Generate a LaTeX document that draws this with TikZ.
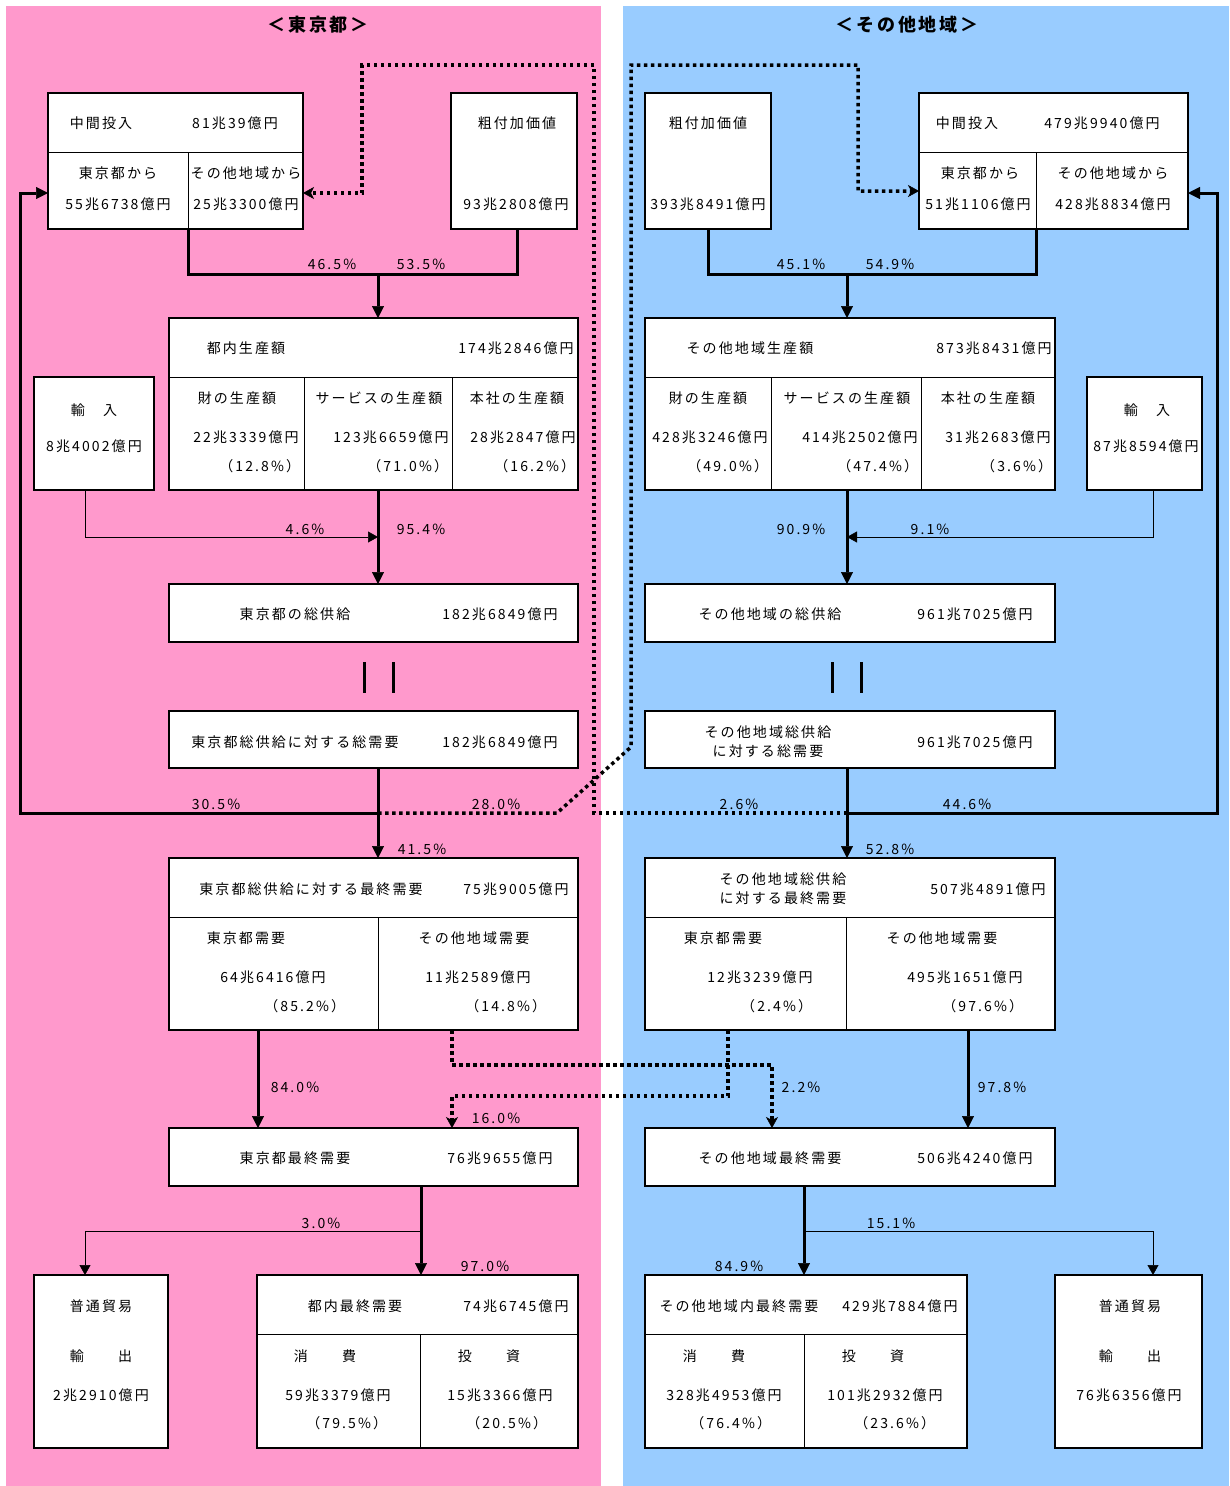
\documentclass[tikz,border=0pt]{standalone}
\usepackage{fontspec}
\setmainfont{Noto Sans CJK JP}[LetterSpace=15]
\usetikzlibrary{arrows.meta,calc}
\definecolor{pinkbg}{HTML}{FF99CC}
\definecolor{bluebg}{HTML}{99CCFF}
\newcommand{\BX}[5]{\node[bx,minimum width={(#4-#2)*1pt},minimum height={(#5-#3)*1pt}] (#1) at ({(#2+#4)/2},{(#3+#5)/2}) {};}
\newcommand{\TX}[4]{\node[tx] (#1) at (#2,#3) {#4};}
\newcommand{\TR}[4]{\node[tx,anchor=east] (#1) at (#2,#3) {#4};}
\newcommand{\DV}[4]{\draw[div] (#1,#2) -- (#3,#4);}
\begin{document}
\begin{tikzpicture}[x=1pt,y=-1pt,
 font=\fontsize{14}{19}\selectfont,
 bx/.style={draw,line width=2pt,fill=white,inner sep=0pt,outer sep=0pt},
 tx/.style={inner sep=0pt,outer sep=0pt,align=center},
 div/.style={line width=1pt},
 thk/.style={line width=3pt},
 thn/.style={line width=1pt},
 dots/.style={line width=3.5pt,dash pattern=on 3.5pt off 3.5pt},
 tipB/.style={-{Triangle[length=12pt,width=12pt,line width=0.5pt]}},
 tipS/.style={-{Triangle[length=10pt,width=11pt,line width=0.5pt]}},
 tipD/.style={-{Stealth[length=11pt,width=12pt,inset=3pt,line width=0.5pt]}},
 ttl/.style={inner sep=0pt,font=\fontsize{18}{20}\selectfont\bfseries}]
\useasboundingbox (0,0) rectangle (1229,1486);
\fill[pinkbg] (6,6) rectangle (601,1486);
\fill[bluebg] (623,6) rectangle (1229,1486);

% ---------------- boxes: Tokyo
\BX{tkMid}{48}{93}{303}{229}
\DV{48}{152}{303}{152} \DV{188}{152}{188}{229}
\BX{tkVA}{451}{93}{577}{229}
\BX{tkProd}{169}{318}{578}{490}
\DV{169}{377}{578}{377} \DV{304}{377}{304}{490} \DV{452}{377}{452}{490}
\BX{tkImp}{34}{377}{154}{490}
\BX{tkSup}{169}{584}{578}{642}
\BX{tkTD}{169}{711}{578}{768}
\BX{tkFD}{169}{858}{578}{1030}
\DV{169}{917}{578}{917} \DV{378}{917}{378}{1030}
\BX{tkFin}{169}{1128}{578}{1186}
\BX{tkExp}{34}{1275}{168}{1448}
\BX{tkDom}{257}{1275}{578}{1448}
\DV{257}{1334}{578}{1334} \DV{420}{1334}{420}{1448}

% ---------------- boxes: other regions
\BX{otVA}{645}{93}{771}{229}
\BX{otMid}{919}{93}{1188}{229}
\DV{919}{152}{1188}{152} \DV{1036}{152}{1036}{229}
\BX{otProd}{645}{318}{1055}{490}
\DV{645}{377}{1055}{377} \DV{771}{377}{771}{490} \DV{921}{377}{921}{490}
\BX{otImp}{1087}{377}{1202}{490}
\BX{otSup}{645}{584}{1055}{642}
\BX{otTD}{645}{711}{1055}{768}
\BX{otFD}{645}{858}{1055}{1030}
\DV{645}{917}{1055}{917} \DV{846}{917}{846}{1030}
\BX{otFin}{645}{1128}{1055}{1186}
\BX{otDom}{645}{1275}{967}{1448}
\DV{645}{1334}{967}{1334} \DV{804}{1334}{804}{1448}
\BX{otExp}{1055}{1275}{1202}{1448}

% ---------------- coordinates
\coordinate (tkX) at (378,0);
\coordinate (tkMidDiv) at (188,229);
\coordinate (tkVAOut) at (517,229);
\coordinate (tkJ1) at (378,274);
\coordinate (tkImpOut) at (85,490);
\coordinate (tkJ2) at (378,537);
\coordinate (tkJ3) at (378,813);
\coordinate (tkL) at (20,813);
\coordinate (tkMidIn) at (48,193);
\coordinate (tkMidOut) at (303,193);
\coordinate (dA1) at (594,813);
\coordinate (dA2) at (362,65);
\coordinate (dB1) at (557,813);
\coordinate (dB2) at (631,747);
\coordinate (dB3) at (858,65);
\coordinate (otMidInL) at (919,191);
\coordinate (tkFDL) at (258,1030);
\coordinate (tkFDR) at (452,1030);
\coordinate (dC1) at (452,1065);
\coordinate (dC2) at (772,1065);
\coordinate (otFDL) at (728,1030);
\coordinate (dD1) at (728,1096);
\coordinate (dD2) at (452,1096);
\coordinate (tkX2) at (421,0);
\coordinate (tkJ4) at (421,1231);
\coordinate (tkExpIn) at (85,1275);
\coordinate (otX) at (847,0);
\coordinate (otJ1) at (847,274);
\coordinate (otMidDiv) at (1036,229);
\coordinate (otImpOut) at (1153,490);
\coordinate (otJ2) at (847,537);
\coordinate (otJ3) at (847,813);
\coordinate (otR) at (1217,813);
\coordinate (otMidInR) at (1188,193);
\coordinate (otFDR) at (968,1030);
\coordinate (otX2) at (804,0);
\coordinate (otJ4) at (804,1231);
\coordinate (otExpIn) at (1153,1275);

% ---------------- connectors: Tokyo
\draw[thk] (tkMidDiv) |- (tkJ1) -| (tkVAOut);
\draw[thk,tipB] (tkJ1) -- (tkProd.north -| tkX);
\draw[thn,tipS] (tkImpOut) |- (tkJ2);
\draw[thk,tipB] (tkProd.south -| tkX) -- (tkSup.north -| tkX);
\draw[thk] (364,662) -- (364,693);
\draw[thk] (393,662) -- (393,693);
\draw[thk,tipB] (tkTD.south -| tkX) -- (tkFD.north -| tkX);
\draw[thk,tipB] (tkJ3) -- (tkL) |- (tkMidIn);
\draw[thk,tipB] (tkFDL) -- (tkFin.north -| tkFDL);
\draw[thk,tipB] (tkFin.south -| tkX2) -- (tkDom.north -| tkX2);
\draw[thn,tipS] (tkJ4) -| (tkExpIn);

% ---------------- connectors: other regions
\draw[thk] (otVA.south) |- (otJ1) -| (otMidDiv);
\draw[thk,tipB] (otJ1) -- (otProd.north -| otX);
\draw[thn,tipS] (otImpOut) |- (otJ2);
\draw[thk,tipB] (otProd.south -| otX) -- (otSup.north -| otX);
\draw[thk] (832,662) -- (832,693);
\draw[thk] (861,662) -- (861,693);
\draw[thk,tipB] (otTD.south -| otX) -- (otFD.north -| otX);
\draw[thk,tipB] (otJ3) -- (otR) |- (otMidInR);
\draw[thk,tipB] (otFDR) -- (otFin.north -| otFDR);
\draw[thk,tipB] (otFin.south -| otX2) -- (otDom.north -| otX2);
\draw[thn,tipS] (otJ4) -| (otExpIn);

% ---------------- dotted cross flows
\draw[dots,tipD] (tkJ3) -- (dB1) -- (dB2) |- (dB3) |- (otMidInL);
\draw[dots,tipD] (otJ3) -- (dA1) |- (dA2) |- (tkMidOut);
\draw[dots,tipD] (tkFDR) -- (dC1) -- (dC2) -- (otFin.north -| dC2);
\draw[dots,tipD] (otFDL) -- (dD1) -- (dD2) -- (tkFin.north -| dD2);

% ---------------- titles
\node[ttl] (ttlTk) at (318,25) {＜東京都＞};
\node[ttl] (ttlOt) at (907,25) {＜その他地域＞};

% ---------------- texts: Tokyo
\TX{a1}{101}{123}{中間投入}
\TX{a2}{235}{123}{81兆39億円}
\TX{a3}{118}{173}{東京都から}
\TX{a4}{118}{204}{55兆6738億円}
\TX{a5}{246}{173}{その他地域から}
\TX{a6}{246}{204}{25兆3300億円}
\TX{a7}{517}{123}{粗付加価値}
\TX{a8}{516}{204}{93兆2808億円}
\TX{b1}{246}{348}{都内生産額}
\TX{b2}{516}{348}{174兆2846億円}
\TX{b3}{237}{398}{財の生産額}
\TX{b4}{246}{437}{22兆3339億円}
\TR{b5}{300}{466}{（12.8\%）}
\TX{b6}{379}{398}{サービスの生産額}
\TX{b7}{391}{437}{123兆6659億円}
\TR{b8}{448}{466}{（71.0\%）}
\TX{b9}{517}{398}{本社の生産額}
\TX{b10}{523}{437}{28兆2847億円}
\TR{b11}{575}{466}{（16.2\%）}
\TX{c1}{94}{410}{輸　入}
\TX{c2}{94}{446}{8兆4002億円}
\TX{c3}{295}{614}{東京都の総供給}
\TX{c4}{500}{614}{182兆6849億円}
\TX{c5}{295}{742}{東京都総供給に対する総需要}
\TX{c6}{500}{742}{182兆6849億円}
\TX{d1}{311}{889}{東京都総供給に対する最終需要}
\TX{d2}{516}{889}{75兆9005億円}
\TX{d3}{246}{938}{東京都需要}
\TX{d4}{273}{977}{64兆6416億円}
\TR{d5}{345}{1006}{（85.2\%）}
\TX{d6}{474}{938}{その他地域需要}
\TX{d7}{478}{977}{11兆2589億円}
\TR{d8}{546}{1006}{（14.8\%）}
\TX{e1}{295}{1158}{東京都最終需要}
\TX{e2}{500}{1158}{76兆9655億円}
\TX{e3}{101}{1306}{普通貿易}
\TX{e4}{101}{1356}{輸　　出}
\TX{e5}{101}{1395}{2兆2910億円}
\TX{e6}{355}{1306}{都内最終需要}
\TX{e7}{516}{1306}{74兆6745億円}
\TX{e8}{325}{1356}{消　　費}
\TX{e9}{338}{1395}{59兆3379億円}
\TR{e10}{387}{1423}{（79.5\%）}
\TX{e11}{489}{1356}{投　　資}
\TX{e12}{500}{1395}{15兆3366億円}
\TR{e13}{547}{1423}{（20.5\%）}

% ---------------- texts: other regions
\TX{f1}{708}{123}{粗付加価値}
\TX{f2}{708}{204}{393兆8491億円}
\TX{f3}{967}{123}{中間投入}
\TX{f4}{1102}{123}{479兆9940億円}
\TX{f5}{980}{173}{東京都から}
\TX{f6}{978}{204}{51兆1106億円}
\TX{f7}{1113}{173}{その他地域から}
\TX{f8}{1113}{204}{428兆8834億円}
\TX{g1}{750}{348}{その他地域生産額}
\TX{g2}{994}{348}{873兆8431億円}
\TX{g3}{708}{398}{財の生産額}
\TX{g4}{710}{437}{428兆3246億円}
\TR{g5}{768}{466}{（49.0\%）}
\TX{g6}{847}{398}{サービスの生産額}
\TX{g7}{860}{437}{414兆2502億円}
\TR{g8}{918}{466}{（47.4\%）}
\TX{g9}{988}{398}{本社の生産額}
\TX{g10}{998}{437}{31兆2683億円}
\TR{g11}{1052}{466}{（3.6\%）}
\TX{h1}{1147}{410}{輸　入}
\TX{h2}{1146}{446}{87兆8594億円}
\TX{h3}{770}{614}{その他地域の総供給}
\TX{h4}{975}{614}{961兆7025億円}
\TX{h5}{768}{742}{その他地域総供給\\に対する総需要}
\TX{h6}{975}{742}{961兆7025億円}
\TX{i1}{783}{889}{その他地域総供給\\に対する最終需要}
\TX{i2}{988}{889}{507兆4891億円}
\TX{i3}{723}{938}{東京都需要}
\TX{i4}{760}{977}{12兆3239億円}
\TR{i5}{812}{1006}{（2.4\%）}
\TX{i6}{942}{938}{その他地域需要}
\TX{i7}{965}{977}{495兆1651億円}
\TR{i8}{1023}{1006}{（97.6\%）}
\TX{j1}{770}{1158}{その他地域最終需要}
\TX{j2}{975}{1158}{506兆4240億円}
\TX{j3}{739}{1306}{その他地域内最終需要}
\TX{j4}{900}{1306}{429兆7884億円}
\TX{j5}{714}{1356}{消　　費}
\TX{j6}{724}{1395}{328兆4953億円}
\TR{j7}{771}{1423}{（76.4\%）}
\TX{j8}{873}{1356}{投　　資}
\TX{j9}{885}{1395}{101兆2932億円}
\TR{j10}{935}{1423}{（23.6\%）}
\TX{k1}{1130}{1306}{普通貿易}
\TX{k2}{1130}{1356}{輸　　出}
\TX{k3}{1129}{1395}{76兆6356億円}

% ---------------- percentage labels
\TX{p1}{332}{264}{46.5\%}
\TX{p2}{421}{264}{53.5\%}
\TX{p3}{305}{529}{4.6\%}
\TX{p4}{421}{529}{95.4\%}
\TX{p5}{216}{804}{30.5\%}
\TX{p6}{496}{804}{28.0\%}
\TX{p7}{422}{849}{41.5\%}
\TX{p8}{295}{1087}{84.0\%}
\TX{p9}{496}{1118}{16.0\%}
\TX{p10}{321}{1223}{3.0\%}
\TX{p11}{485}{1266}{97.0\%}
\TX{q1}{801}{264}{45.1\%}
\TX{q2}{890}{264}{54.9\%}
\TX{q3}{801}{529}{90.9\%}
\TX{q4}{930}{529}{9.1\%}
\TX{q5}{739}{804}{2.6\%}
\TX{q6}{967}{804}{44.6\%}
\TX{q7}{890}{849}{52.8\%}
\TX{q8}{801}{1087}{2.2\%}
\TX{q9}{1002}{1087}{97.8\%}
\TX{q10}{891}{1223}{15.1\%}
\TX{q11}{739}{1266}{84.9\%}
\end{tikzpicture}
\end{document}
